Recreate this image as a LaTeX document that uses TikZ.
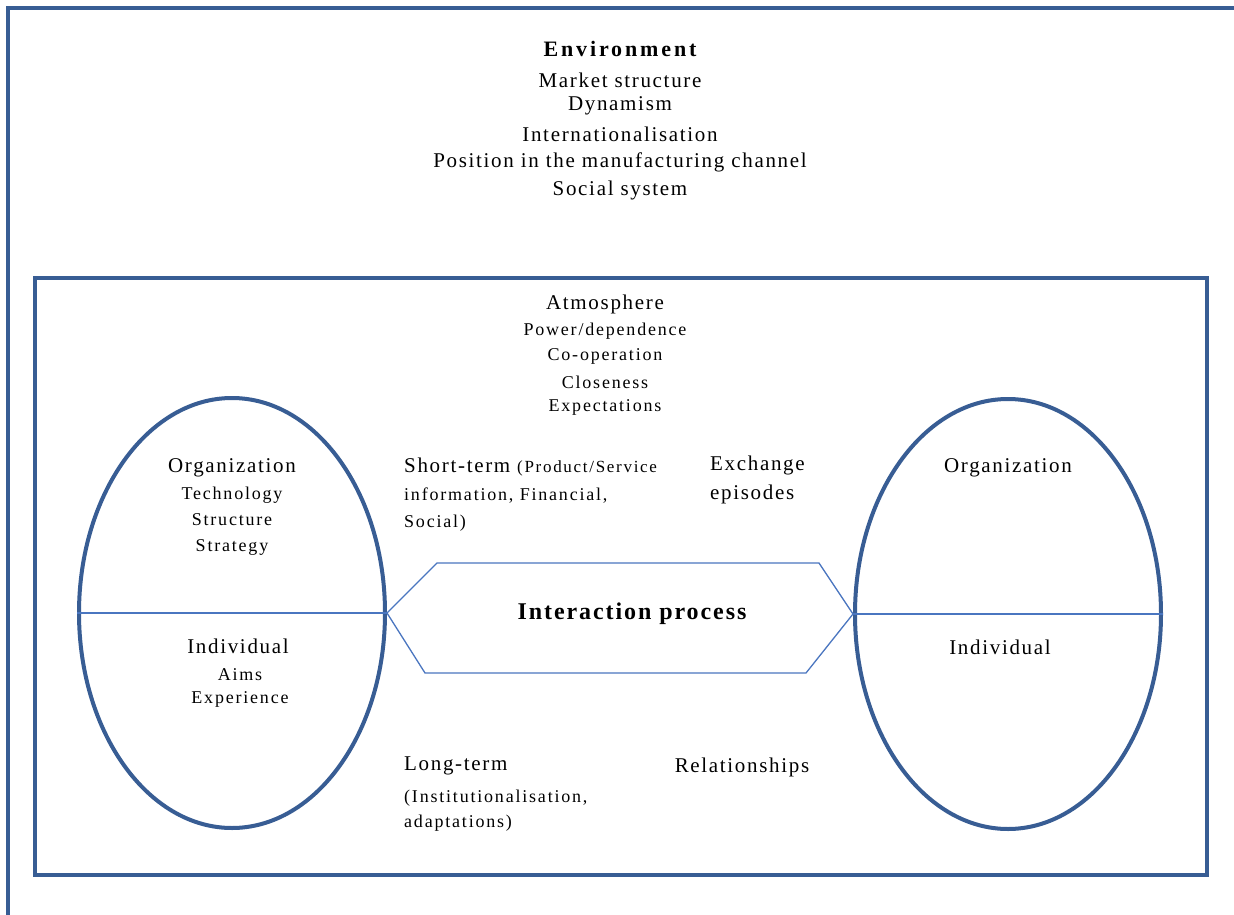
\documentclass[tikz,border=0pt]{standalone}
\usepackage{fontspec}
\setmainfont{Liberation Serif}
\newfontfamily\spacedrm[LetterSpace=8]{Liberation Serif}
\newfontfamily\spacedsm[LetterSpace=10]{Liberation Serif}
\newfontfamily\spacedhd[LetterSpace=13]{Liberation Serif}
\usetikzlibrary{shapes.geometric}
\definecolor{frameblue}{RGB}{56,93,148}
\definecolor{lineblue}{RGB}{74,118,192}
\tikzset{
  frame/.style={draw=frameblue, line width=4pt},
  oval/.style={ellipse, draw=frameblue, line width=4pt, minimum width=306pt, minimum height=430pt, inner sep=0pt},
  thin/.style={draw=lineblue, line width=1.3pt},
  txt/.style={inner sep=0pt, yshift=-2pt, font=\spacedrm\fontsize{21}{23}\selectfont},
  small/.style={inner sep=0pt, yshift=-2pt, font=\spacedsm\fontsize{18}{20}\selectfont},
  ltxt/.style={txt, anchor=west},
  lsmall/.style={small, anchor=west}
}
\begin{document}
\begin{tikzpicture}[x=1pt,y=-1pt]
\useasboundingbox (0,0) rectangle (1234,915);
\clip (0,0) rectangle (1234,915);
\fill[white] (0,0) rectangle (1234,915);

% outer environment frame (runs past the page edge)
\draw[frame] (8,930) -- (8,8) -- (1250,8);
% inner atmosphere frame
\draw[frame] (35,278) rectangle (1207,875);

% environment
\node[inner sep=0pt, yshift=-2pt, font=\spacedhd\fontsize{22}{24}\selectfont\bfseries] (env) at (620,47) {Environment};
\node[txt] (env1) at (620,78) {Market structure};
\node[txt] (env2) at (620,104) {Dynamism};
\node[txt] (env3) at (620,132) {Internationalisation};
\node[txt] (env4) at (620,160) {Position in the manufacturing channel};
\node[txt] (env5) at (620,188) {Social system};

% atmosphere
\node[txt] (atm) at (605,302) {Atmosphere};
\node[small] (atm1) at (605,329) {Power/dependence};
\node[small] (atm2) at (605,354) {Co-operation};
\node[small] (atm3) at (605,380) {Closeness};
\node[small] (atm4) at (605,405) {Expectations};

% the two parties
\node[oval] (lp) at (232,613) {};
\node[oval] (rp) at (1008,614) {};
\draw[thin] (lp.west) -- (lp.east);
\draw[thin] (rp.west) -- (rp.east);

\node[txt] (lorg) at (232,466) {Organization};
\node[small] (lorg1) at (232,493) {Technology};
\node[small] (lorg2) at (232,518) {Structure};
\node[small] (lorg3) at (232,545) {Strategy};
\node[txt] (lind) at (238,644) {Individual};
\node[small] (lind1) at (240,673) {Aims};
\node[small] (lind2) at (240,697) {Experience};

\node[txt] (rorg) at (1008,466) {Organization};
\node[txt] (rind) at (1000,645) {Individual};

% interaction process
\coordinate (h1) at (437,563);
\coordinate (h2) at (819,563);
\coordinate (h3) at (806,673);
\coordinate (h4) at (425,673);
\draw[thin] (lp.east) -- (h1) -- (h2) -- (rp.west) -- (h3) -- (h4) -- cycle;
\node[inner sep=0pt, yshift=-2pt, font=\spacedrm\fontsize{24}{26}\selectfont\bfseries] (ip) at (632,612) {Interaction process};

% episodes and relationships
\node[ltxt] (st) at (404,465) {Short-term {\spacedsm\fontsize{17}{19}\selectfont(Product/Service}};
\node[lsmall] (st2) at (404,494) {information, Financial,};
\node[lsmall] (st3) at (404,521) {Social)};
\node[ltxt] (ex1) at (710,463) {Exchange};
\node[ltxt] (ex2) at (710,492) {episodes};

\node[ltxt] (lt) at (404,764) {Long-term};
\node[lsmall] (lt2) at (404,796) {(Institutionalisation,};
\node[lsmall] (lt3) at (404,821) {adaptations)};
\node[txt] (rel) at (742,765) {Relationships};
\end{tikzpicture}
\end{document}
